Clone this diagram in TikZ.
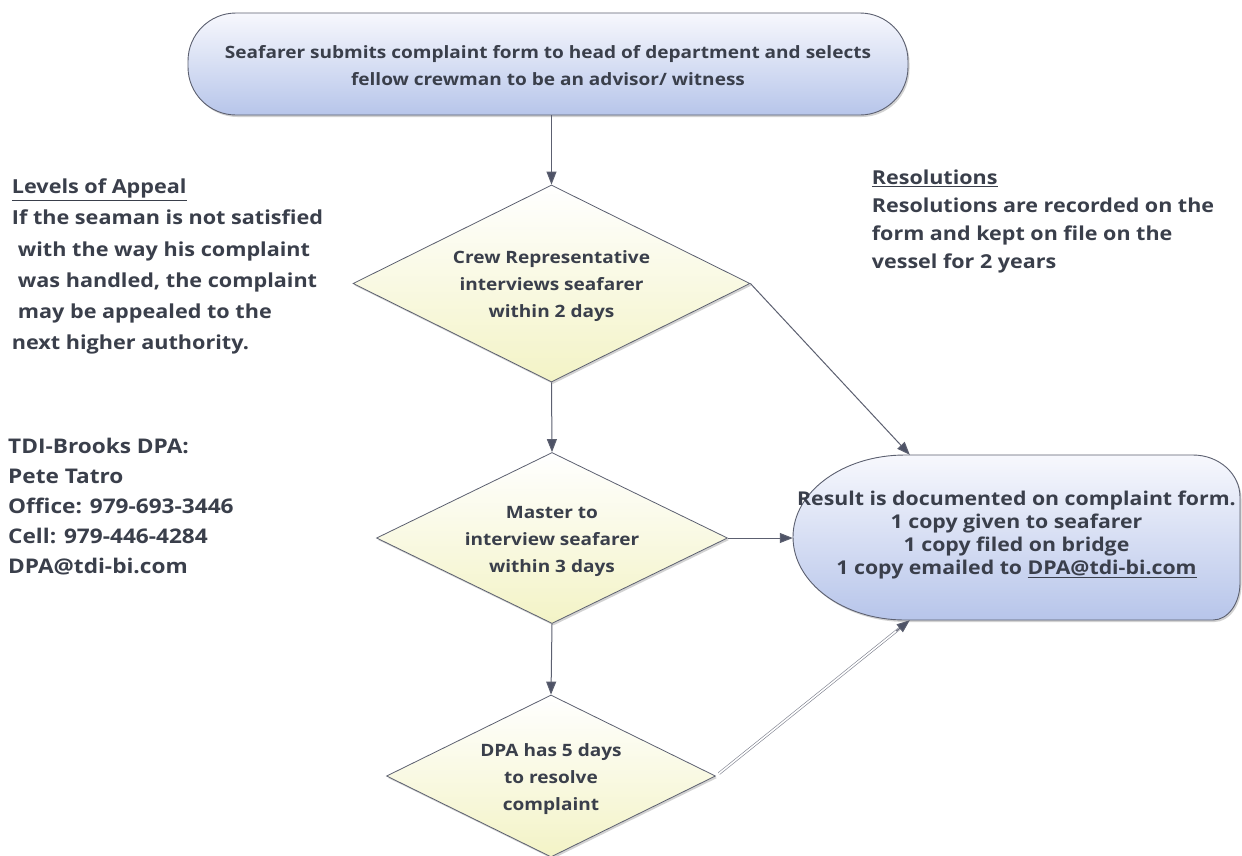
\documentclass[tikz,border=0pt]{standalone}
\usepackage{fontspec}
\setmainfont{Open Sans}[FakeStretch=1.12]
\usetikzlibrary{shapes.geometric,arrows.meta,shadows,calc}
\definecolor{txt}{HTML}{3A3F4B}
\definecolor{ln}{HTML}{5C6070}
\definecolor{tipc}{HTML}{4E5367}
\definecolor{blueB}{HTML}{B7C5EA}
\definecolor{blueT}{HTML}{F7F8FD}
\definecolor{yelB}{HTML}{F3F3C6}
\newcommand{\lines}[2][-6.25pt]{\raisebox{#1}[0pt][0pt]{\begin{tabular}{@{}c@{}}#2\end{tabular}}}
\begin{document}
\begin{tikzpicture}[x=1pt,y=-1pt,
  every node/.style={text=txt, font=\bfseries},
  shadowed/.style={drop shadow={opacity=0.35, shadow xshift=1.5pt, shadow yshift=-2pt}},
  term/.style={rectangle, draw=ln, line width=0.9pt, top color=blueT, bottom color=blueB,
    inner sep=0pt, shadowed},
  dec/.style={diamond, draw=ln, line width=0.8pt, top color=white, middle color=white, bottom color=yelB,
    inner sep=0pt, shadowed, font=\fontsize{17}{27}\selectfont\bfseries},
  arr/.style={draw=ln, line width=1pt, -{Triangle[length=13pt,width=10pt,fill=tipc]}},
  note/.style={align=left, anchor=north west, inner sep=0pt},
]
\useasboundingbox (0,0) rectangle (1242,855);
\fill[white] (0,0) rectangle (1242,855);

% top terminal
\node[term, rounded corners=48pt, minimum width=720pt, minimum height=102pt,
  font=\fontsize{17}{27}\selectfont\bfseries] (start) at (548,64)
  {\lines[-7.25pt]{Seafarer submits complaint form to head of department and selects\\fellow crewman to be an advisor/ witness}};

% decisions
\node[dec, aspect=2.01, minimum width=397pt, minimum height=197pt] (d1) at (551.5,283.5)
  {\lines{Crew Representative\\interviews seafarer\\within 2 days}};
\node[dec, aspect=2.05, minimum width=351pt, minimum height=171pt] (d2) at (552,538)
  {\lines{Master to\\interview seafarer\\within 3 days}};
\node[dec, aspect=2.02, minimum width=329pt, minimum height=162pt] (d3) at (551,776)
  {\lines{DPA has 5 days\\to resolve\\complaint}};

% result terminal (outline drawn directly, text node on top)
\shade[draw=ln, line width=0.9pt, top color=blueT, bottom color=blueB, shadowed]
  (793,537) arc[start angle=180, end angle=90, x radius=112pt, y radius=82pt]
  -- (1193,455) arc[start angle=90, end angle=0, x radius=47pt, y radius=42pt]
  -- (1240,583) arc[start angle=0, end angle=-90, x radius=27pt, y radius=37pt]
  -- (905,620) arc[start angle=-90, end angle=-180, x radius=112pt, y radius=83pt]
  -- cycle;
\node[inner sep=0pt, minimum width=447pt, minimum height=165pt, align=center,
  font=\fontsize{19}{23}\selectfont\bfseries] (res) at (1016.5,535)
  {Result is documented on complaint form.\\1 copy given to seafarer\\1 copy filed on bridge\\1 copy emailed to \underline{DPA@tdi-bi.com}};

% connectors
\coordinate (rtop) at ($(res.north west)+(117,2.5)$);
\coordinate (rbot) at ($(res.south west)+(117,2.5)$);
\draw[arr] (start.south -| d1.north) -- (d1.north);
\draw[arr] (d1.south) -- (d2.north);
\draw[arr] (d2.south) -- (d3.north);
\draw[arr] (d1.east) -- (rtop);
\draw[arr] (d2.east) -- (d2.east -| res.west);
\draw[draw=ln!80, line width=0.6pt, double=white, double distance=1.6pt, shorten >=10pt, shorten <=4pt] (d3.east) -- (rbot);
\draw[arr] ($(d3.east)!0.93!(rbot)$) -- (rbot);

% side notes
\node[note, font=\fontsize{19.3}{31.2}\selectfont\bfseries] (appeal) at (11.7,178.7)
  {\underline{Levels of Appeal}\\
   If the seaman is not satisfied\\
   \hspace{6pt}with the way his complaint\\
   \hspace{6pt}was handled, the complaint\\
   \hspace{6pt}may be appealed to the\\
   next higher authority.};
\node[note, font=\fontsize{19.2}{28}\selectfont\bfseries] (resol) at (871.7,170.2)
  {\underline{Resolutions}\\
   Resolutions are recorded on the\\
   form and kept on file on the\\
   vessel for 2 years};
\node[note, font=\fontsize{20.2}{30}\selectfont\bfseries] (dpa) at (8,437.6)
  {TDI-Brooks DPA:\\
   Pete Tatro\\
   Office: 979-693-3446\\
   Cell: 979-446-4284\\
   DPA@tdi-bi.com};
\end{tikzpicture}
\end{document}
